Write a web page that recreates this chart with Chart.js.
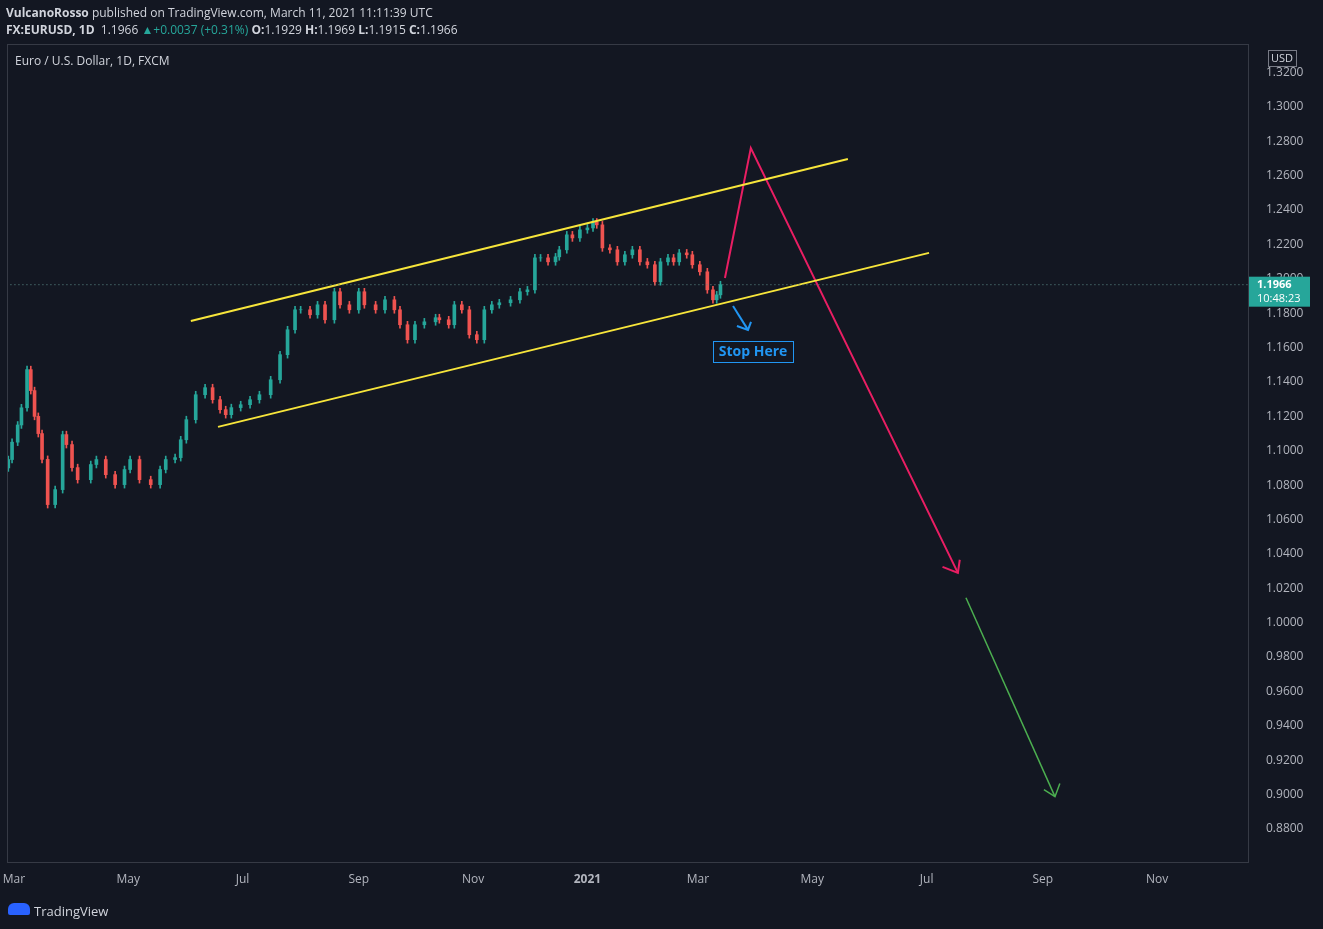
<!DOCTYPE html>
<html><head><meta charset="utf-8">
<script src="https://cdn.jsdelivr.net/npm/chart.js@4"></script>
<style>
  html,body{margin:0;padding:0;background:#131722;overflow:hidden}
  #wrap{position:relative;width:1323px;height:929px}
  canvas{position:absolute;left:0;top:0}
  .t{position:absolute;font-family:"Open Sans",sans-serif;font-size:12px;color:#d1d4dc;white-space:nowrap}
</style></head>
<body><div id="wrap">
<canvas id="c" width="1323" height="929"></canvas>
<div class="t" style="left:6px;top:4px"><b>VulcanoRosso</b> published on TradingView.com, March 11, 2021 11:11:39 UTC</div>
<div class="t" style="left:6px;top:21px"><b>FX:EURUSD, 1D</b>&nbsp; 1.1966 <span style="color:#26a69a">▲+0.0037 (+0.31%)</span> <b>O:</b>1.1929 <b>H:</b>1.1969 <b>L:</b>1.1915 <b>C:</b>1.1966</div>
<div class="t" style="left:15px;top:52px">Euro / U.S. Dollar, 1D, FXCM</div>
<div class="t" style="left:34px;top:902px;font-size:13px">TradingView</div>
<div style="position:absolute;left:8px;top:903px;width:22px;height:12px;background:#2962ff;border-radius:6px 6px 2px 2px"></div>
</div>
<script>
// days since 2020-03-01 and daily closes
const days = [-3,-1,2,4,7,9,11,13,15,18,22,26,28,31,34,41,44,49,54,59,62,67,73,78,81,86,89,92,97,102,106,110,113,116,121,126,131,137,142,146,150,153,158,162,166,171,174,179,184,187,193,198,203,206,210,214,219,225,227,232,235,239,243,247,251,255,259,265,270,274,278,281,285,289,291,295,298,302,306,309,311,314,318,322,326,330,334,338,342,345,349,352,355,359,362,366,370,373,375,377];
const closes = [1.0949,1.1050,1.1150,1.1250,1.1472,1.1350,1.1200,1.1100,1.0950,1.0687,1.0774,1.1094,1.1036,1.0902,1.0832,1.0920,1.0949,1.0861,1.0803,1.0891,1.0949,1.0832,1.0803,1.0891,1.0949,1.0960,1.1064,1.1181,1.1326,1.1367,1.1297,1.1239,1.1210,1.1251,1.1268,1.1297,1.1326,1.1413,1.1559,1.1704,1.1820,1.1820,1.1791,1.1849,1.1762,1.1925,1.1849,1.1820,1.1925,1.1849,1.1820,1.1878,1.1820,1.1733,1.1646,1.1733,1.1750,1.1774,1.1762,1.1733,1.1849,1.1820,1.1675,1.1646,1.1820,1.1849,1.1861,1.1878,1.1925,1.1936,1.2122,1.2122,1.2099,1.2128,1.2169,1.2256,1.2238,1.2285,1.2296,1.2331,1.2314,1.2180,1.2169,1.2099,1.2140,1.2169,1.2099,1.2082,1.1983,1.2099,1.2122,1.2099,1.2151,1.2140,1.2082,1.2041,1.1936,1.1878,1.1907,1.1966];
const firstOpen = 1.0900;
const monthTicks = [0,61,122,184,245,306,365,426,487,549,610];
const monthLabels = ['Mar','May','Jul','Sep','Nov','2021','Mar','May','Jul','Sep','Nov'];
const upperChannel = [[94.4,1.1755],[445,1.2697]];
const lowerChannel = [[108.9,1.1139],[488.3,1.2151]];
const pinkPath = [[379.4,1.2005],[393.2,1.2761],[503.7,1.0290]];
const pinkHead = [[495.5,1.0325],[503.7,1.0290],[504.7,1.0366]];
const greenPath = [[508,1.0145],[555.5,0.8988]];
const greenHead = [[549.6,0.9029],[555.5,0.8988],[558.1,0.9064]];
const bluePath = [[383.7,1.1842],[391.7,1.1703]];
const blueHead = [[385.8,1.1726],[391.7,1.1703],[393.3,1.1750]];
const lastPrice = 1.1966;

const UP='#26a69a', DN='#ef5350';
const opens = closes.map((c,i)=> i ? closes[i-1] : firstOpen);
const bodies = days.map((d,i)=>({x:d,y:[opens[i],closes[i]]}));
const wicks = days.map((d,i)=>({x:d,y:[Math.min(opens[i],closes[i])-0.002,Math.max(opens[i],closes[i])+0.002]}));
const cols = closes.map((c,i)=> c>=opens[i]?UP:DN);
const pts = a => a.map(p=>({x:p[0],y:p[1]}));
const line = (a,color,w)=>({type:'line',data:pts(a),borderColor:color,borderWidth:w,pointRadius:0,fill:false,tension:0});

const overlay = {
  id:'overlay',
  afterDraw(ch){
    const {ctx,scales:{x,y},chartArea:a}=ch;
    ctx.save();
    ctx.strokeStyle='#363a45';ctx.lineWidth=1;
    ctx.strokeRect(a.left+0.5,a.top+0.5,a.right-a.left,a.bottom-a.top);
    ctx.strokeStyle='#787b86';ctx.strokeRect(1268.5,50.5,28,16);
    ctx.fillStyle='#d1d4dc';ctx.font='11px "Open Sans"';ctx.textAlign='center';ctx.textBaseline='middle';
    ctx.fillText('USD',1282,59);
    const py=y.getPixelForValue(lastPrice);
    ctx.fillStyle=UP;ctx.fillRect(1249,py-8,61,30);
    ctx.fillStyle='#fff';ctx.font='bold 11px "Open Sans"';ctx.textAlign='left';
    ctx.fillText(lastPrice.toFixed(4),1257,py);
    ctx.font='11px "Open Sans"';ctx.fillText('10:48:23',1257,py+14);
    ctx.fillStyle='#131722';ctx.fillRect(713,341,80,21);
    ctx.strokeStyle='#2196f3';ctx.strokeRect(713.5,341.5,80,21);
    ctx.fillStyle='#2196f3';ctx.font='bold 14px "Open Sans"';ctx.textAlign='center';
    ctx.fillText('Stop Here',753,352);
    ctx.restore();
  }
};

new Chart(document.getElementById('c'),{
  type:'bar',
  data:{datasets:[
    {data:wicks,backgroundColor:cols,barThickness:1,grouped:false,order:2},
    {data:bodies,backgroundColor:cols,barThickness:3,grouped:false,order:1},
    {type:'line',data:[{x:-4,y:lastPrice},{x:659,y:lastPrice}],borderColor:'#5d8f8a',borderWidth:1,borderDash:[1,3],pointRadius:0},
    line(upperChannel,'#f7e53b',2), line(lowerChannel,'#f7e53b',2),
    line(pinkPath,'#e91e63',2), line(pinkHead,'#e91e63',2),
    line(greenPath,'#4caf50',1.5), line(greenHead,'#4caf50',1.5),
    line(bluePath,'#2196f3',2), line(blueHead,'#2196f3',2)
  ]},
  options:{
    responsive:false,animation:false,
    layout:{padding:{left:7,top:44,right:0,bottom:0}},
    plugins:{legend:{display:false},tooltip:{enabled:false}},
    scales:{
      x:{type:'linear',offset:false,min:-3.7,max:658.5,grid:{display:false},border:{display:false},
        afterBuildTicks:s=>{s.ticks=monthTicks.map(v=>({value:v}));},
        afterFit:s=>{s.height=67;},
        ticks:{color:'#b2b5be',padding:2,maxRotation:0,autoSkip:false,
          font:c=>({family:'Open Sans',size:12,weight:c.index===5?'bold':'normal'}),
          callback:(v,i)=>monthLabels[i]}},
      y:{position:'right',min:0.8608,max:1.3366,grid:{display:false},border:{display:false},
        afterBuildTicks:s=>{const t=[];for(let k=0;k<=22;k++)t.push({value:0.88+k*0.02});s.ticks=t;},
        afterFit:s=>{s.width=75;},
        ticks:{color:'#b2b5be',padding:10,font:{family:'Open Sans',size:12},callback:v=>v.toFixed(4)}}
    }
  },
  plugins:[overlay]
});
</script></body></html>
